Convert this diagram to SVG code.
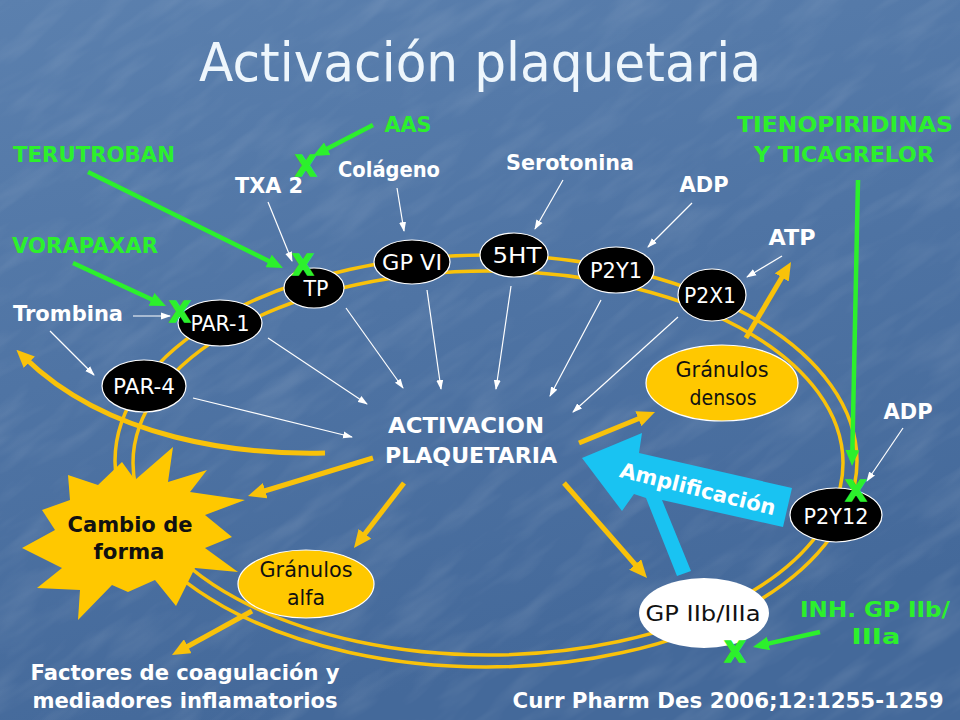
<svg xmlns="http://www.w3.org/2000/svg" width="960" height="720" viewBox="0 0 960 720">
<defs>
<linearGradient id="bg" x1="0" y1="0" x2="0.3" y2="1">
<stop offset="0" stop-color="#5b80ae"/>
<stop offset="0.5" stop-color="#4f74a4"/>
<stop offset="1" stop-color="#44699a"/>
</linearGradient>
<filter id="tex" x="0" y="0" width="100%" height="100%">
<feTurbulence type="fractalNoise" baseFrequency="0.012 0.05" numOctaves="3" seed="7"/>
<feColorMatrix type="matrix" values="0 0 0 0 1  0 0 0 0 1  0 0 0 0 1  0.6 0 0 0 -0.27"/>
</filter>
<marker id="aw" viewBox="0 0 10 8" markerWidth="10" markerHeight="8" refX="9" refY="4" orient="auto" markerUnits="userSpaceOnUse">
<path d="M0,0.5 L10,4 L0,7.5 Z" fill="#ffffff"/>
</marker>
<marker id="ay" viewBox="0 0 18 16" markerWidth="18" markerHeight="16" refX="6" refY="8" orient="auto" markerUnits="userSpaceOnUse">
<path d="M0,0 L18,8 L0,16 Z" fill="#f9c20a"/>
</marker>
<marker id="ag" viewBox="0 0 16 14" markerWidth="16" markerHeight="14" refX="4" refY="7" orient="auto" markerUnits="userSpaceOnUse">
<path d="M0,0 L16,7 L0,14 Z" fill="#2cf02c"/>
</marker>
<style>
.lbl{font-family:"DejaVu Sans","Liberation Sans",sans-serif;font-weight:bold;font-size:21px;fill:#ffffff;text-anchor:middle}
.grn{fill:#2cf02c}
.xg{font-family:"DejaVu Sans","Liberation Sans",sans-serif;font-weight:bold;font-size:29px;fill:#2cf02c;stroke:#2cf02c;stroke-width:1.6;text-anchor:middle}
.nt{font-family:"DejaVu Sans","Liberation Sans",sans-serif;font-size:21px;fill:#ffffff;text-anchor:middle}
.yt{font-family:"DejaVu Sans","Liberation Sans",sans-serif;font-size:21px;fill:#111111;text-anchor:middle}
.bn{fill:#000000;stroke:#ffffff;stroke-width:1.2}
.yn{fill:#ffc800;stroke:#ffffff;stroke-width:1.2}
.mem{fill:none;stroke:#f9c20a;stroke-width:3.5}
.wl{stroke:#ffffff;stroke-width:1.2;fill:none;marker-end:url(#aw)}
.yl{stroke:#f9c20a;stroke-width:5;fill:none;marker-end:url(#ay)}
.gl{stroke:#2cf02c;stroke-width:4.5;fill:none;marker-end:url(#ag)}
</style>
</defs>

<rect width="960" height="720" fill="url(#bg)"/>
<g transform="rotate(-35 480 360)">
<rect x="-300" y="-300" width="1560" height="1320" filter="url(#tex)" opacity="0.35"/>
</g>

<text x="480" y="81" font-family="DejaVu Sans, Liberation Sans, sans-serif" font-size="54" fill="#eef6fc" text-anchor="middle" textLength="562" lengthAdjust="spacingAndGlyphs">Activación plaquetaria</text>

<g id="membrane">
<ellipse class="mem" cx="486" cy="461" rx="371" ry="206"/>
<ellipse class="mem" cx="488" cy="463" rx="355" ry="192"/>
</g>

<g id="connectors">
<line class="wl" x1="268" y1="202" x2="292" y2="261"/>
<line class="wl" x1="397" y1="188" x2="404" y2="231"/>
<line class="wl" x1="563" y1="180" x2="535" y2="229"/>
<line class="wl" x1="692" y1="203" x2="648" y2="247"/>
<line class="wl" x1="782" y1="256" x2="747" y2="277"/>
<line class="wl" x1="133" y1="316" x2="170" y2="316"/>
<line class="wl" x1="50" y1="331" x2="94" y2="375"/>
<line class="wl" x1="903" y1="428" x2="867" y2="481"/>
<line class="wl" x1="268" y1="338" x2="367" y2="404"/>
<line class="wl" x1="193" y1="398" x2="352" y2="437"/>
<line class="wl" x1="346" y1="308" x2="403" y2="388"/>
<line class="wl" x1="427" y1="290" x2="441" y2="389"/>
<line class="wl" x1="511" y1="286" x2="496" y2="389"/>
<line class="wl" x1="601" y1="300" x2="550" y2="396"/>
<line class="wl" x1="678" y1="317" x2="573" y2="412"/>

<line class="yl" x1="373" y1="458" x2="259.5" y2="492.5"/>
<line class="yl" x1="404" y1="483" x2="361.3" y2="538.5"/>
<line class="yl" x1="252" y1="611" x2="182.5" y2="649.2"/>
<line class="yl" x1="579" y1="443" x2="643.9" y2="416.5"/>
<line class="yl" x1="564" y1="483" x2="639.1" y2="569"/>
<line class="yl" x1="746" y1="338" x2="784.9" y2="272.3"/>
<path class="yl" d="M325,453 C240,455 110,440 25,358"/>

<polygon id="amplificacion-arrow" points="582,458 642,433 639,453 792,488 783,527 662,500 691,571 677,576 646,498 634,494 622,511" fill="#19c3f2"/>
</g>

<g id="cambio-de-forma">
<polygon points="173,447 168,482 207,470 190,492 245,500 205,515 232,537 205,548 238,572 195,568 176,606 155,580 128,592 112,585 78,620 80,590 37,588 62,568 22,548 55,530 42,510 70,500 68,475 98,485 122,462 135,480" fill="#ffc800"/>
<text class="yt" x="130" y="532" font-weight="bold" textLength="125" lengthAdjust="spacingAndGlyphs">Cambio de</text>
<text class="yt" x="129" y="559" font-weight="bold" textLength="71" lengthAdjust="spacingAndGlyphs">forma</text>
</g>

<g id="granulos-alfa">
<ellipse class="yn" cx="306" cy="584" rx="68" ry="34"/>
<text class="yt" x="306" y="577" textLength="93" lengthAdjust="spacingAndGlyphs">Gránulos</text>
<text class="yt" x="306" y="605" textLength="38" lengthAdjust="spacingAndGlyphs">alfa</text>
</g>

<g id="granulos-densos">
<ellipse class="yn" cx="722" cy="383" rx="76" ry="38"/>
<text class="yt" x="722" y="377" textLength="93" lengthAdjust="spacingAndGlyphs">Gránulos</text>
<text class="yt" x="723" y="405" textLength="67" lengthAdjust="spacingAndGlyphs">densos</text>
</g>

<g id="par-1">
<ellipse class="bn" cx="220" cy="323" rx="42" ry="23"/>
<text class="nt" x="220" y="331" textLength="59" lengthAdjust="spacingAndGlyphs">PAR-1</text>
</g>
<g id="par-4">
<ellipse class="bn" cx="144" cy="386" rx="42" ry="26"/>
<text class="nt" x="144" y="394" textLength="62" lengthAdjust="spacingAndGlyphs">PAR-4</text>
</g>
<g id="tp">
<ellipse class="bn" cx="314" cy="288" rx="30" ry="20"/>
<text class="nt" x="316" y="296" textLength="25" lengthAdjust="spacingAndGlyphs">TP</text>
</g>
<g id="gp-vi">
<ellipse class="bn" cx="412" cy="262" rx="38" ry="22"/>
<text class="nt" x="412" y="270" textLength="60" lengthAdjust="spacingAndGlyphs">GP VI</text>
</g>
<g id="5ht">
<ellipse class="bn" cx="514" cy="255" rx="34" ry="22"/>
<text class="nt" x="517" y="263" textLength="49" lengthAdjust="spacingAndGlyphs">5HT</text>
</g>
<g id="p2y1">
<ellipse class="bn" cx="616" cy="270" rx="38" ry="23"/>
<text class="nt" x="616" y="278" textLength="52" lengthAdjust="spacingAndGlyphs">P2Y1</text>
</g>
<g id="p2x1">
<ellipse class="bn" cx="712" cy="295" rx="34" ry="26"/>
<text class="nt" x="710" y="303" textLength="52" lengthAdjust="spacingAndGlyphs">P2X1</text>
</g>
<g id="p2y12">
<ellipse class="bn" cx="836" cy="515" rx="46" ry="27"/>
<text class="nt" x="836" y="524" textLength="65" lengthAdjust="spacingAndGlyphs">P2Y12</text>
</g>
<g id="gp-iib-iiia">
<ellipse cx="704" cy="613" rx="65" ry="35" fill="#ffffff"/>
<text class="yt" x="703" y="621" fill="#000000" textLength="115" lengthAdjust="spacingAndGlyphs">GP IIb/IIIa</text>
</g>

<g id="activacion">
<text class="lbl" x="466" y="433" textLength="156" lengthAdjust="spacingAndGlyphs">ACTIVACION</text>
<text class="lbl" x="471" y="463" textLength="172" lengthAdjust="spacingAndGlyphs">PLAQUETARIA</text>
</g>

<g id="amplificacion-label">
<text class="lbl" transform="translate(696,496) rotate(14)" x="0" y="0" textLength="160" lengthAdjust="spacingAndGlyphs">Amplificación</text>
</g>

<g id="agonists">
<text class="lbl" x="269" y="193" textLength="68" lengthAdjust="spacingAndGlyphs">TXA 2</text>
<text class="lbl" x="389" y="177" textLength="102" lengthAdjust="spacingAndGlyphs">Colágeno</text>
<text class="lbl" x="570" y="170" textLength="128" lengthAdjust="spacingAndGlyphs">Serotonina</text>
<text class="lbl" x="704" y="192" textLength="49" lengthAdjust="spacingAndGlyphs">ADP</text>
<text class="lbl" x="792" y="245" textLength="47" lengthAdjust="spacingAndGlyphs">ATP</text>
<text class="lbl" x="68" y="321" textLength="110" lengthAdjust="spacingAndGlyphs">Trombina</text>
<text class="lbl" x="908" y="419" textLength="49" lengthAdjust="spacingAndGlyphs">ADP</text>
</g>

<g id="outputs">
<text class="lbl" x="185" y="680" textLength="309" lengthAdjust="spacingAndGlyphs">Factores de coagulación y</text>
<text class="lbl" x="185" y="708" textLength="305" lengthAdjust="spacingAndGlyphs">mediadores inflamatorios</text>
<text class="lbl" x="728" y="708" textLength="431" lengthAdjust="spacingAndGlyphs">Curr Pharm Des 2006;12:1255-1259</text>
</g>

<g id="drugs">
<line class="gl" x1="373" y1="125" x2="323.7" y2="150.5"/>
<line class="gl" x1="88" y1="172" x2="272.2" y2="262.7"/>
<line class="gl" x1="73" y1="263" x2="155.1" y2="301"/>
<line class="gl" x1="858" y1="180" x2="852.3" y2="454"/>
<line class="gl" x1="820" y1="632" x2="764.7" y2="644.4"/>
<text class="lbl grn" x="408" y="132" textLength="47" lengthAdjust="spacingAndGlyphs">AAS</text>
<text class="lbl grn" x="94" y="162" textLength="162" lengthAdjust="spacingAndGlyphs">TERUTROBAN</text>
<text class="lbl grn" x="85" y="253" textLength="146" lengthAdjust="spacingAndGlyphs">VORAPAXAR</text>
<text class="lbl grn" x="845" y="132" textLength="216" lengthAdjust="spacingAndGlyphs">TIENOPIRIDINAS</text>
<text class="lbl grn" x="844" y="162" textLength="180" lengthAdjust="spacingAndGlyphs">Y TICAGRELOR</text>
<text class="lbl grn" x="875" y="617" textLength="150" lengthAdjust="spacingAndGlyphs">INH. GP IIb/</text>
<text class="lbl grn" x="876" y="644" textLength="49" lengthAdjust="spacingAndGlyphs">IIIa</text>
<text class="xg" x="306" y="176" textLength="21" lengthAdjust="spacingAndGlyphs">X</text>
<text class="xg" x="303" y="275" textLength="21" lengthAdjust="spacingAndGlyphs">X</text>
<text class="xg" x="180" y="322" textLength="21" lengthAdjust="spacingAndGlyphs">X</text>
<text class="xg" x="856" y="501" textLength="21" lengthAdjust="spacingAndGlyphs">X</text>
<text class="xg" x="735" y="662" textLength="21" lengthAdjust="spacingAndGlyphs">X</text>
</g>
</svg>
